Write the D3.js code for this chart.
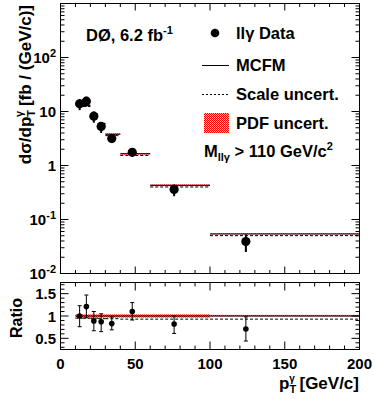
<!DOCTYPE html>
<html>
<head>
<meta charset="utf-8">
<script src="https://cdn.jsdelivr.net/npm/d3@7"></script>
<style>
body { margin: 0; background: #fff; }
text { font-family: "Liberation Sans", Arial, sans-serif; font-weight: bold; fill: #000; }
</style>
</head>
<body>
<script>
// bins in photon pT (GeV/c)
const binLo = [10, 15, 20, 25, 30, 40, 60, 100];
const binHi = [15, 20, 25, 30, 40, 60, 100, 200];
// data points
const dataPt = [12.8, 17.3, 22.3, 27.2, 34.3, 48, 76, 124];
const dataXs = [13.9, 15.5, 8.2, 5.3, 3.16, 1.76, 0.36, 0.039];
const dataLo = [10.6, 12.3, 6.2, 4.0, 2.6, 1.45, 0.27, 0.025];
const dataHi = [17.1, 18.8, 10.0, 6.4, 3.7, 2.1, 0.445, 0.053];
// MCFM prediction and uncertainties (relative)
const mcfm = [14.0, 13.0, 9.0, 6.0, 3.8, 1.65, 0.43, 0.054];
const scaleDown = [0.95, 0.95, 0.95, 0.94, 0.94, 0.93, 0.93, 0.93];
const pdfDown = [0.965, 0.965, 0.965, 0.965, 0.965, 0.965, 0.965, 1.0];
const pdfUp = [1.035, 1.035, 1.035, 1.035, 1.035, 1.035, 1.035, 1.025];
// ratio data / MCFM
const ratioVal = [1.0, 1.21, 0.89, 0.87, 0.83, 1.1, 0.82, 0.71];
const ratioLo = [0.76, 0.96, 0.67, 0.65, 0.69, 0.91, 0.61, 0.44];
const ratioHi = [1.23, 1.47, 1.1, 1.05, 0.98, 1.3, 1.0, 0.98];
// tick labels
const xTicks = [0, 50, 100, 150, 200];
const yDecades = [0.01, 0.1, 1, 10, 100, 1000];
const ratioTicks = [0.5, 1, 1.5];

const W = 374, H = 399;
const L = 60.5, R = 359.5;

const svg = d3.select('body').append('svg')
  .attr('width', W)
  .attr('height', H);

const defs = svg.append('defs');
const pat = defs.append('pattern')
  .attr('id', 'pdf')
  .attr('width', 2).attr('height', 2)
  .attr('patternUnits', 'userSpaceOnUse');
pat.append('rect').attr('x', 0).attr('y', 0).attr('width', 2).attr('height', 2).attr('fill', '#ffb0b0');
pat.append('rect').attr('x', 0).attr('y', 0).attr('width', 1).attr('height', 1).attr('fill', '#f00');
pat.append('rect').attr('x', 1).attr('y', 1).attr('width', 1).attr('height', 1).attr('fill', '#f00');

const x = d3.scaleLinear().domain([0, 200]).range([L, R]);
const y = d3.scaleLog().domain([0.01, 1000]).range([273.5, 3.5]);
const yr = d3.scaleLinear().domain([0.25, 1.75]).range([349.5, 282.5]);

const idx = d3.range(binLo.length);

// ---------- top panel ----------
const upper = svg.append('g');

// PDF band
upper.selectAll('.band').data(idx).enter().append('rect')
  .attr('x', i => x(binLo[i]))
  .attr('width', i => x(binHi[i]) - x(binLo[i]))
  .attr('y', i => y(mcfm[i] * pdfUp[i]))
  .attr('height', i => Math.max(1, y(mcfm[i] * pdfDown[i]) - y(mcfm[i] * pdfUp[i])))
  .attr('fill', 'url(#pdf)');

// MCFM central
upper.selectAll('.mc').data(idx).enter().append('line')
  .attr('x1', i => x(binLo[i])).attr('x2', i => x(binHi[i]))
  .attr('y1', i => y(mcfm[i])).attr('y2', i => y(mcfm[i]))
  .attr('stroke', '#000').attr('stroke-width', 1);

// scale uncert
upper.selectAll('.sc').data(idx).enter().append('line')
  .attr('x1', i => x(binLo[i])).attr('x2', i => x(binHi[i]))
  .attr('y1', i => y(mcfm[i] * scaleDown[i])).attr('y2', i => y(mcfm[i] * scaleDown[i]))
  .attr('stroke', '#000').attr('stroke-width', 1).attr('stroke-dasharray', '3,2');

// data error bars + points
upper.selectAll('.err').data(idx).enter().append('line')
  .attr('x1', i => x(dataPt[i])).attr('x2', i => x(dataPt[i]))
  .attr('y1', i => y(dataLo[i])).attr('y2', i => y(dataHi[i]))
  .attr('stroke', '#000').attr('stroke-width', 2);
upper.selectAll('.pt').data(idx).enter().append('circle')
  .attr('cx', i => x(dataPt[i]))
  .attr('cy', i => y(dataXs[i]))
  .attr('r', 4.6)
  .attr('fill', '#000');

// frame + ticks (inside, all four sides)
const majX = d3.range(0, 201, 50);
const minX = d3.range(0, 201, 10).filter(v => v % 50 !== 0);

function xTicksInside(g, yPos, len, sign) {
  g.selectAll(null).data(majX).enter().append('line')
    .attr('x1', d => x(d)).attr('x2', d => x(d))
    .attr('y1', yPos).attr('y2', yPos + sign * len)
    .attr('stroke', '#000');
  g.selectAll(null).data(minX).enter().append('line')
    .attr('x1', d => x(d)).attr('x2', d => x(d))
    .attr('y1', yPos).attr('y2', yPos + sign * len / 2)
    .attr('stroke', '#000');
}

xTicksInside(upper, 273.5, 7, -1);
xTicksInside(upper, 3.5, 7, 1);

const logMinor = [];
yDecades.slice(0, -1).forEach(d => {
  for (let k = 2; k <= 9; k++) logMinor.push(d * k);
});

[[L, 1], [R, -1]].forEach(([xp, s]) => {
  upper.selectAll(null).data(yDecades).enter().append('line')
    .attr('x1', xp).attr('x2', xp + s * 8)
    .attr('y1', d => y(d)).attr('y2', d => y(d))
    .attr('stroke', '#000');
  upper.selectAll(null).data(logMinor).enter().append('line')
    .attr('x1', xp).attr('x2', xp + s * 4)
    .attr('y1', d => y(d)).attr('y2', d => y(d))
    .attr('stroke', '#000');
});

upper.append('rect')
  .attr('x', L).attr('y', 3.5)
  .attr('width', R - L).attr('height', 270)
  .attr('fill', 'none').attr('stroke', '#000');

// y labels with exponents
const yLab = upper.selectAll('.ylab').data(yDecades.slice(0, -1)).enter().append('text')
  .attr('x', 56)
  .attr('y', d => y(d) + 5.5)
  .attr('text-anchor', 'end')
  .attr('font-size', '15px');
yLab.each(function (d) {
  const t = d3.select(this);
  const e = Math.round(Math.log10(d));
  if (e === 0) { t.text('1'); return; }
  if (e === 1) { t.text('10'); return; }
  t.append('tspan').text('10');
  t.append('tspan').attr('dy', -6).attr('font-size', '11px').text(String(e));
});

// y title
const yt = svg.append('text')
  .attr('transform', 'translate(31,5) rotate(-90)')
  .attr('text-anchor', 'end')
  .attr('font-size', '17px');
yt.append('tspan').text('dσ/dp');
yt.append('tspan').attr('dy', 4).attr('font-size', '11px').text('T');
yt.append('tspan').attr('dx', -7).attr('dy', -12).attr('font-size', '11px').text('γ');
yt.append('tspan').attr('dy', 8).text(' [fb / (GeV/c)]');

// legend
const d0 = svg.append('text').attr('x', 86).attr('y', 41).attr('font-size', '16.5px');
d0.append('tspan').text('DØ, 6.2 fb');
d0.append('tspan').attr('dy', -7).attr('font-size', '11px').text('-1');

svg.append('circle').attr('cx', 215).attr('cy', 33).attr('r', 4.3).attr('fill', '#000');
svg.append('text').attr('x', 236).attr('y', 39).attr('font-size', '16.5px').text('llγ Data');

svg.append('line').attr('x1', 202).attr('x2', 229).attr('y1', 65.5).attr('y2', 65.5).attr('stroke', '#000');
svg.append('text').attr('x', 236).attr('y', 71).attr('font-size', '16.5px').text('MCFM');

svg.append('line').attr('x1', 202).attr('x2', 229).attr('y1', 94.5).attr('y2', 94.5)
  .attr('stroke', '#000').attr('stroke-dasharray', '2,2');
svg.append('text').attr('x', 236).attr('y', 100).attr('font-size', '16.5px').text('Scale uncert.');

svg.append('rect').attr('x', 204).attr('y', 113).attr('width', 25).attr('height', 20).attr('fill', 'url(#pdf)');
svg.append('text').attr('x', 236).attr('y', 129).attr('font-size', '16.5px').text('PDF uncert.');

const mt = svg.append('text').attr('x', 204).attr('y', 157).attr('font-size', '16.5px');
mt.append('tspan').text('M');
mt.append('tspan').attr('dy', 4).attr('font-size', '11px').text('llγ');
mt.append('tspan').attr('dy', -4).text(' > 110 GeV/c');
mt.append('tspan').attr('dy', -7).attr('font-size', '11px').text('2');

// ---------- ratio panel ----------
const lower = svg.append('g');

lower.selectAll('.rband').data(idx).enter().append('rect')
  .attr('x', i => x(binLo[i]))
  .attr('width', i => x(binHi[i]) - x(binLo[i]))
  .attr('y', i => yr(pdfUp[i]))
  .attr('height', i => Math.max(1.5, yr(pdfDown[i]) - yr(pdfUp[i])))
  .attr('fill', 'url(#pdf)');

lower.append('line')
  .attr('x1', x(binLo[0])).attr('x2', x(binHi[binHi.length - 1]))
  .attr('y1', yr(1)).attr('y2', yr(1))
  .attr('stroke', '#000');

lower.selectAll('.rsc').data(idx).enter().append('line')
  .attr('x1', i => x(binLo[i])).attr('x2', i => x(binHi[i]))
  .attr('y1', i => yr(scaleDown[i])).attr('y2', i => yr(scaleDown[i]))
  .attr('stroke', '#000').attr('stroke-dasharray', '3,2');

lower.selectAll('.rerr').data(idx).enter().append('line')
  .attr('x1', i => x(dataPt[i])).attr('x2', i => x(dataPt[i]))
  .attr('y1', i => yr(ratioLo[i])).attr('y2', i => yr(ratioHi[i]))
  .attr('stroke', '#000');
lower.selectAll('.rcap').data(idx).enter().append('path')
  .attr('d', i => `M${x(dataPt[i]) - 2},${yr(ratioLo[i])}h4M${x(dataPt[i]) - 2},${yr(ratioHi[i])}h4`)
  .attr('stroke', '#000');
lower.selectAll('.rpt').data(idx).enter().append('circle')
  .attr('cx', i => x(dataPt[i]))
  .attr('cy', i => yr(ratioVal[i]))
  .attr('r', 2.8)
  .attr('fill', '#000');

xTicksInside(lower, 349.5, 8, -1);
xTicksInside(lower, 282.5, 8, 1);

const rMinor = d3.range(3, 18).map(v => v / 10).filter(v => Math.abs(v * 2 - Math.round(v * 2)) > 1e-6);
[[L, 1], [R, -1]].forEach(([xp, s]) => {
  lower.selectAll(null).data(ratioTicks).enter().append('line')
    .attr('x1', xp).attr('x2', xp + s * 8)
    .attr('y1', d => yr(d)).attr('y2', d => yr(d))
    .attr('stroke', '#000');
  lower.selectAll(null).data(rMinor).enter().append('line')
    .attr('x1', xp).attr('x2', xp + s * 4)
    .attr('y1', d => yr(d)).attr('y2', d => yr(d))
    .attr('stroke', '#000');
});

lower.append('rect')
  .attr('x', L).attr('y', 282.5)
  .attr('width', R - L).attr('height', 67)
  .attr('fill', 'none').attr('stroke', '#000');

lower.selectAll('.rlab').data(ratioTicks).enter().append('text')
  .attr('x', 56)
  .attr('y', d => yr(d) + 5.5)
  .attr('text-anchor', 'end')
  .attr('font-size', '15px')
  .text(d => d3.format('')(d));

lower.selectAll('.xlab').data(xTicks).enter().append('text')
  .attr('x', d => x(d))
  .attr('y', 369)
  .attr('text-anchor', 'middle')
  .attr('font-size', '15px')
  .text(d => d);

svg.append('text')
  .attr('transform', 'translate(22,318) rotate(-90)')
  .attr('text-anchor', 'middle')
  .attr('font-size', '16px')
  .text('Ratio');

const xt = svg.append('text')
  .attr('x', 359).attr('y', 389)
  .attr('text-anchor', 'end')
  .attr('font-size', '17px');
xt.append('tspan').text('p');
xt.append('tspan').attr('dy', 4).attr('font-size', '11px').text('T');
xt.append('tspan').attr('dx', -7).attr('dy', -11).attr('font-size', '10px').text('γ');
xt.append('tspan').attr('dy', 7).text(' [GeV/c]');
</script>
</body>
</html>
